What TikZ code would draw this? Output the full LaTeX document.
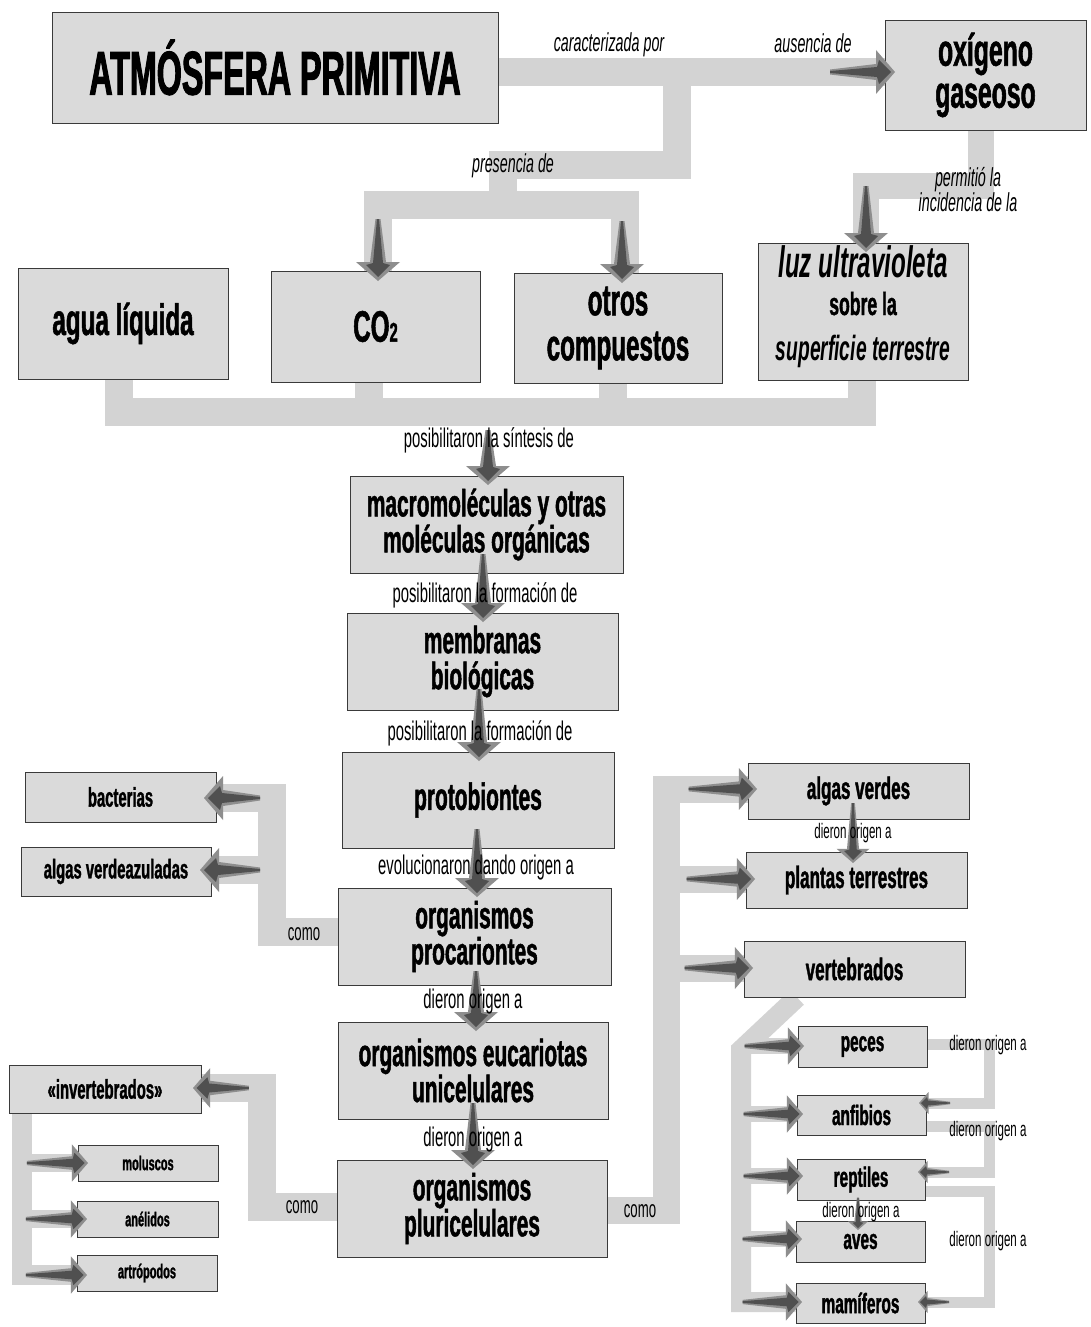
\documentclass[tikz,border=0pt]{standalone}
\usepackage{fontspec}
\setmainfont{Liberation Sans}[FakeStretch=0.55, BoldFeatures={FakeBold=1.2}]
\newfontfamily\titlefont{Liberation Sans}[FakeStretch=0.52, BoldFeatures={FakeBold=1.5}]
\usetikzlibrary{calc}
\definecolor{boxgray}{HTML}{DADADA}
\definecolor{bandgray}{HTML}{D3D3D3}
\definecolor{arrlight}{HTML}{8E8E8E}
\definecolor{arrdark}{HTML}{505050}
\definecolor{boxline}{HTML}{3A3A3A}
\newcommand\fsz[2]{\fontsize{#1}{#2}\selectfont}
\pgfdeclarelayer{bandlayer}
\pgfsetlayers{bandlayer,main}
\tikzset{
  arrtail/.store in=\arrtail, arrtail=62,
  arrowhead/.pic={
    \fill[arrlight] (0,0) -- (-19,22) -- (-19,8) -- (-\arrtail,2.5) -- (-\arrtail,-2.5) -- (-19,-8) -- (-19,-22) -- cycle;
    \fill[arrdark] (-4,0) -- (-16,12) -- (-18,5) -- (-\arrtail,1) -- (-\arrtail,-1) -- (-18,-5) -- (-16,-12) -- cycle;
  },
  box/.style={draw=boxline, fill=boxgray, line width=0.8pt, inner sep=0pt, align=center},
  band/.style={draw=bandgray, line width=28pt, line join=miter, line cap=butt},
  thinband/.style={draw=bandgray, line width=11pt, line join=miter, line cap=butt},
  lab/.style={anchor=base, inner sep=0pt},
}
\begin{document}
\begin{tikzpicture}[x=1pt,y=-1pt]
\useasboundingbox (0,0) rectangle (1091,1327);

% ---------- boxes ----------
\node[box, minimum width=446pt, minimum height=111pt, font=\titlefont\bfseries\fsz{62}{62}] (title) at (275,67.5) {ATMÓSFERA PRIMITIVA};
\node[box, minimum width=201pt, minimum height=110pt, font=\bfseries\fsz{45}{42}] (oxi) at (985.5,75) {oxígeno\\gaseoso};
\node[box, minimum width=210pt, minimum height=111pt, font=\bfseries\fsz{44}{44}] (agua) at (123,323.5) {agua líquida};
\node[box, minimum width=209pt, minimum height=111pt, font=\bfseries\fsz{44}{44}] (co2) at (375.5,326.5) {CO{\fsz{27}{27}2}};
\node[box, minimum width=208pt, minimum height=110pt, font=\bfseries\fsz{44}{45}] (otros) at (618,328) {otros\\compuestos};
\node[box, minimum width=210pt, minimum height=137pt] (luz) at (863,311.5) {};
\node[lab, font=\bfseries\itshape\fsz{44}{44}] (luz1) at (863,277) {luz ultravioleta};
\node[lab, font=\bfseries\fsz{32}{32}] (luz2) at (863,315) {sobre la};
\node[lab, font=\bfseries\itshape\fsz{35}{35}] (luz3) at (863,360) {superficie terrestre};

\node[box, minimum width=273pt, minimum height=97pt, font=\bfseries\fsz{38}{36}] (macro) at (486.5,524.5) {macromoléculas y otras\\moléculas orgánicas};
\node[box, minimum width=271pt, minimum height=97pt, font=\bfseries\fsz{38}{36}] (memb) at (482.5,661.5) {membranas\\biológicas};
\node[box, minimum width=272pt, minimum height=96pt, font=\bfseries\fsz{38}{36}] (proto) at (478,800) {protobiontes};
\node[box, minimum width=273pt, minimum height=97pt, font=\bfseries\fsz{38}{36}] (proca) at (474.5,936.5) {organismos\\procariontes};
\node[box, minimum width=270pt, minimum height=97pt, font=\bfseries\fsz{38}{36}] (euca) at (473,1070.5) {organismos eucariotas\\unicelulares};
\node[box, minimum width=270pt, minimum height=97pt, font=\bfseries\fsz{38}{36}] (pluri) at (472,1208.5) {organismos\\pluricelulares};

\node[box, minimum width=191pt, minimum height=50pt, font=\bfseries\fsz{27}{27}] (bact) at (120.5,797) {bacterias};
\node[box, minimum width=190pt, minimum height=49pt, font=\bfseries\fsz{27}{27}] (algasva) at (116,871.5) {algas verdeazuladas};
\node[box, minimum width=192pt, minimum height=48pt, font=\bfseries\fsz{27}{27}] (inv) at (105,1089) {«invertebrados»};
\node[box, minimum width=140pt, minimum height=36pt, font=\bfseries\fsz{20}{20}] (molu) at (148,1163) {moluscos};
\node[box, minimum width=141pt, minimum height=36pt, font=\bfseries\fsz{20}{20}] (aneli) at (147.5,1219) {anélidos};
\node[box, minimum width=140pt, minimum height=36pt, font=\bfseries\fsz{20}{20}] (artro) at (147,1273) {artrópodos};

\node[box, minimum width=221pt, minimum height=56pt, font=\bfseries\fsz{31}{31}] (algasv) at (858.5,791) {algas verdes};
\node[box, minimum width=221pt, minimum height=56pt, font=\bfseries\fsz{31}{31}] (plantas) at (856.5,880) {plantas terrestres};
\node[box, minimum width=221pt, minimum height=56pt, font=\bfseries\fsz{31}{31}] (verte) at (854.5,969) {vertebrados};
\node[box, minimum width=129pt, minimum height=41pt, font=\bfseries\fsz{28}{28}] (peces) at (862.5,1046.5) {peces};
\node[box, minimum width=129pt, minimum height=40pt, font=\bfseries\fsz{28}{28}] (anfi) at (861.5,1115) {anfibios};
\node[box, minimum width=128pt, minimum height=41pt, font=\bfseries\fsz{28}{28}] (rept) at (861,1179.5) {reptiles};
\node[box, minimum width=129pt, minimum height=41pt, font=\bfseries\fsz{28}{28}] (aves) at (860.5,1241.5) {aves};
\node[box, minimum width=129pt, minimum height=40pt, font=\bfseries\fsz{28}{28}] (mami) at (860.5,1303) {mamíferos};

% ---------- bands ----------
\begin{pgfonlayer}{bandlayer}
\fill[white] (0,0) rectangle (1091,1327);
\draw[band] (title.east |- 0,72) -- (oxi.west |- 0,72);
\draw[band] (677,72) -- (677,165) -- (503,165) -- (503,205);
\draw[band] (co2.north -| 378,0) -- (378,205) -- (625,205) -- (otros.north -| 625,0);
\draw[band, line width=26pt] (oxi.south -| 981,0) -- (981,186) -- (866,186) -- (luz.north -| 866,0);
\draw[band] (agua.south -| 119,0) -- (119,412) -- (862,412) -- (luz.south -| 862,0);
\draw[band] (co2.south -| 369,0) -- (369,412);
\draw[band] (otros.south -| 613,0) -- (613,412);
\draw[band] (proca.west |- 0,932) -- (272,932) -- (272,798) -- (bact.east |- 0,798);
\draw[band] (272,870) -- (algasva.east |- 0,870);
\draw[band] (pluri.west |- 0,1207) -- (262,1207) -- (262,1088) -- (inv.east |- 0,1088);
\draw[band, line width=20pt] (inv.south -| 22,0) -- (22,1275) -- (artro.west |- 0,1275);
\draw[band, line width=18pt] (22,1163) -- (molu.west |- 0,1163);
\draw[band, line width=18pt] (22,1219) -- (aneli.west |- 0,1219);
\draw[band, line width=27pt] (pluri.east |- 0,1210) -- (666,1210) -- (666,789) -- (algasv.west |- 0,789);
\draw[band, line width=27pt] (666,879) -- (plantas.west |- 0,879);
\draw[band, line width=27pt] (666,968) -- (verte.west |- 0,968);
\draw[band, line width=20pt] (verte.south -| 797,0) -- (741,1050) -- (741,1302) -- (mami.west |- 0,1302);
\draw[band, line width=16pt] (741,1046) -- (peces.west |- 0,1046);
\draw[band, line width=16pt] (741,1114) -- (anfi.west |- 0,1114);
\draw[band, line width=16pt] (741,1176) -- (rept.west |- 0,1176);
\draw[band, line width=16pt] (741,1239) -- (aves.west |- 0,1239);
\draw[thinband] (peces.east |- 0,1044) -- (989,1044) -- (989,1103) -- (anfi.east |- 0,1103);
\draw[thinband] (anfi.east |- 0,1126) -- (989,1126) -- (989,1172) -- (rept.east |- 0,1172);
\draw[thinband] (rept.east |- 0,1191) -- (989,1191) -- (989,1302) -- (mami.east |- 0,1302);
\end{pgfonlayer}

% ---------- arrowheads ----------
\pic[arrtail=65] at (895,72) {arrowhead};
\pic[rotate=-90] at (378,281) {arrowhead};
\pic[rotate=-90] at (622,283) {arrowhead};
\pic[rotate=-90, arrtail=66] at (866,252) {arrowhead};
\pic[rotate=-90, arrtail=55] at (488,485) {arrowhead};
\pic[rotate=-90, arrtail=68] at (483,622) {arrowhead};
\pic[rotate=-90, arrtail=72] at (479,761) {arrowhead};
\pic[rotate=-90, arrtail=68] at (477,897) {arrowhead};
\pic[rotate=-90, arrtail=60] at (476,1031) {arrowhead};
\pic[rotate=-90, arrtail=66] at (473,1169) {arrowhead};
\pic[rotate=180, arrtail=56] at (204,798) {arrowhead};
\pic[rotate=180, arrtail=60] at (200,870) {arrowhead};
\pic[rotate=180, scale=0.9, arrtail=62] at (193,1088) {arrowhead};
\pic[scale=0.85, arrtail=72] at (88,1163) {arrowhead};
\pic[scale=0.85, arrtail=72] at (87,1219) {arrowhead};
\pic[scale=0.85, arrtail=72] at (87,1275) {arrowhead};
\pic[scale=0.95, arrtail=72] at (757,789) {arrowhead};
\pic[scale=0.95, arrtail=72] at (755,879) {arrowhead};
\pic[scale=0.95, arrtail=72] at (753,968) {arrowhead};
\pic[rotate=-90, scale=0.75, arrtail=80] at (853,863) {arrowhead};
\pic[scale=0.85, arrtail=70] at (804,1046) {arrowhead};
\pic[scale=0.85, arrtail=70] at (803,1114) {arrowhead};
\pic[scale=0.85, arrtail=70] at (803,1176) {arrowhead};
\pic[scale=0.85, arrtail=70] at (802,1239) {arrowhead};
\pic[scale=0.85, arrtail=70] at (802,1302) {arrowhead};
\pic[rotate=180, scale=0.5, arrtail=62] at (919,1103) {arrowhead};
\pic[rotate=180, scale=0.5, arrtail=62] at (918,1172) {arrowhead};
\pic[rotate=180, scale=0.5, arrtail=62] at (918,1302) {arrowhead};
\pic[rotate=-90, scale=0.45, arrtail=72] at (858,1230) {arrowhead};

% ---------- labels ----------
\node[lab, font=\itshape\fsz{26}{26}] (t1) at (609,52) {caracterizada por};
\node[lab, font=\itshape\fsz{26}{26}] (t2) at (813,53) {ausencia de};
\node[lab, font=\itshape\fsz{26}{26}] (t3) at (513,172) {presencia de};
\node[lab, font=\itshape\fsz{26}{26}] (t4) at (968,186) {permitió la};
\node[lab, font=\itshape\fsz{26}{26}] (t5) at (968,211) {incidencia de la};
\node[lab, font=\fsz{27}{27}] (l1) at (489,447) {posibilitaron la síntesis de};
\node[lab, font=\fsz{27}{27}] (l2) at (485,602) {posibilitaron la formación de};
\node[lab, font=\fsz{27}{27}] (l3) at (480,740) {posibilitaron la formación de};
\node[lab, font=\fsz{27}{27}] (l4) at (476,874) {evolucionaron dando origen a};
\node[lab, font=\fsz{27}{27}] (l5) at (473,1008) {dieron origen a};
\node[lab, font=\fsz{27}{27}] (l6) at (473,1146) {dieron origen a};
\node[lab, font=\fsz{24}{24}] (c1) at (304,940) {como};
\node[lab, font=\fsz{24}{24}] (c2) at (302,1213) {como};
\node[lab, font=\fsz{24}{24}] (c3) at (640,1217) {como};
\node[lab, font=\fsz{21}{21}] (d1) at (853,838) {dieron origen a};
\node[lab, font=\fsz{21}{21}] (d2) at (988,1050) {dieron origen a};
\node[lab, font=\fsz{21}{21}] (d3) at (988,1136) {dieron origen a};
\node[lab, font=\fsz{21}{21}] (d4) at (861,1217) {dieron origen a};
\node[lab, font=\fsz{21}{21}] (d5) at (988,1246) {dieron origen a};
\end{tikzpicture}
\end{document}
